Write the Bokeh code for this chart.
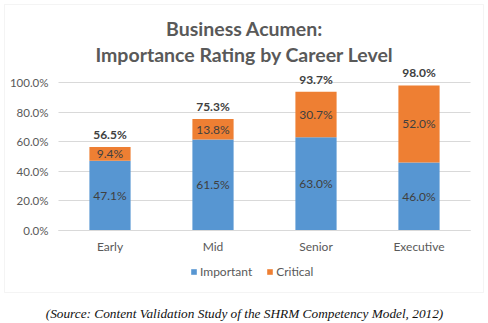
from bokeh.plotting import figure
from bokeh.models import (ColumnDataSource, Range1d, LabelSet, Label, BoxAnnotation,
                          Legend, LegendItem, PrintfTickFormatter, FixedTicker)
from bokeh.core.properties import value
from bokeh.embed import file_html
from bokeh.resources import INLINE

categories = ["Early", "Mid", "Senior", "Executive"]
important = [47.1, 61.5, 63.0, 46.0]
critical = [9.4, 13.8, 30.7, 52.0]
totals = [56.5, 75.3, 93.7, 98.0]
y_ticks = [0, 20, 40, 60, 80, 100]
series = ["Important", "Critical"]
colors = ["#5796D2", "#EE7F33"]
title_lines = ["Business Acumen:", "Importance Rating by Career Level"]
caption = "(Source: Content Validation Study of the SHRM Competency Model, 2012)"

FONT = "Lato"
GRAY = "#595959"
W, H = 488, 323
# plot area in canvas pixels: x 58..470, y(0%)=230, y(100%)=82
PX_L, PX_R, PY_0, PY_100 = 58, 470, 230, 82
xs = [i + 0.5 for i in range(len(categories))]
x_unit = (PX_R - PX_L) / len(categories)
y_unit = (PY_0 - PY_100) / 100.0

src = ColumnDataSource(dict(
    x=xs,
    Important=important,
    Critical=critical,
    total=totals,
    imp_mid=[v / 2 for v in important],
    crit_mid=[a + b / 2 for a, b in zip(important, critical)],
    imp_lbl=["%.1f%%" % v for v in important],
    crit_lbl=["%.1f%%" % v for v in critical],
    tot_lbl=["%.1f%%" % v for v in totals],
))

p = figure(x_range=Range1d(-PX_L / x_unit, (W - PX_L) / x_unit),
           y_range=Range1d(-(H - PY_0) / y_unit, PY_0 / y_unit),
           width=W, height=H, output_backend="svg", toolbar_location=None,
           title=None, min_border=0)
p.outline_line_color = None
p.background_fill_color = "white"
p.border_fill_color = "white"
p.xgrid.visible = False
p.ygrid.visible = False

rs = p.vbar_stack(series, x="x", width=0.4, source=src, color=colors, line_color=None)

# y axis drawn at x=0, behind the bars; its inward major ticks form the gridlines
p.yaxis.fixed_location = 0
p.yaxis.level = "underlay"
p.yaxis.ticker = FixedTicker(ticks=y_ticks)
p.yaxis.formatter = PrintfTickFormatter(format="%.1f%%")
p.yaxis.axis_line_color = None
p.yaxis.major_tick_in = PX_R - PX_L
p.yaxis.major_tick_out = 0
p.yaxis.major_tick_line_color = "#D9D9D9"
p.yaxis.minor_tick_line_color = None
p.yaxis.major_label_standoff = 10

p.xaxis.fixed_location = 0
p.xaxis.bounds = (0, len(categories))
p.xaxis.ticker = FixedTicker(ticks=xs)
p.xaxis.major_label_overrides = {x: c for x, c in zip(xs, categories)}
p.xaxis.axis_line_color = "#D9D9D9"
p.xaxis.major_tick_line_color = None
p.xaxis.minor_tick_line_color = None
p.xaxis.major_tick_in = 0
p.xaxis.major_tick_out = 0
p.xaxis.major_label_standoff = 8
for ax in (p.xaxis, p.yaxis):
    ax.major_label_text_font = FONT
    ax.major_label_text_font_size = "12px"
    ax.major_label_text_color = GRAY
p.yaxis.major_label_text_font_size = "11.5px"

common = dict(x="x", source=src, text_align="center", text_baseline="middle",
              text_font=value(FONT), text_font_size=value("12px"), text_color="#404040")
p.add_layout(LabelSet(y="imp_mid", text="imp_lbl", **common))
p.add_layout(LabelSet(y="crit_mid", text="crit_lbl", **common))
p.add_layout(LabelSet(x="x", y="total", text="tot_lbl", source=src, text_align="center",
                      text_baseline="bottom", y_offset=5, text_font=value(FONT),
                      text_font_size=value("12px"), text_font_style="bold", text_color="#404040"))

# chart border box (screen units: from the frame's bottom-left corner)
p.add_layout(BoxAnnotation(left=4, right=483, top=H - 4, bottom=H - 292,
                           left_units="screen", right_units="screen",
                           top_units="screen", bottom_units="screen",
                           fill_alpha=0, line_color="#D9D9D9", line_width=1))

for txt, py in zip(title_lines, (28, 54)):
    p.add_layout(Label(x=244, y=H - py, x_units="screen", y_units="screen", text=txt,
                       text_align="center", text_baseline="middle", text_font=FONT,
                       text_font_size="19.5px", text_font_style="bold", text_color=GRAY))

p.add_layout(Label(x=244, y=H - 313, x_units="screen", y_units="screen", text=caption,
                   text_align="center", text_baseline="middle", text_font="Liberation Serif",
                   text_font_size="13.3px", text_font_style="italic", text_color="#111111"))

legend = Legend(items=[LegendItem(label=s, renderers=[r]) for s, r in zip(series, rs)],
                location=(190, H - 279), orientation="horizontal", border_line_color=None,
                background_fill_alpha=0, glyph_width=7, glyph_height=7,
                label_text_font=FONT, label_text_font_size="12px", label_text_color=GRAY,
                label_standoff=3, spacing=14, padding=0, margin=0, label_height=14)
p.add_layout(legend, "center")

open("out.html", "w").write(file_html(p, INLINE))
